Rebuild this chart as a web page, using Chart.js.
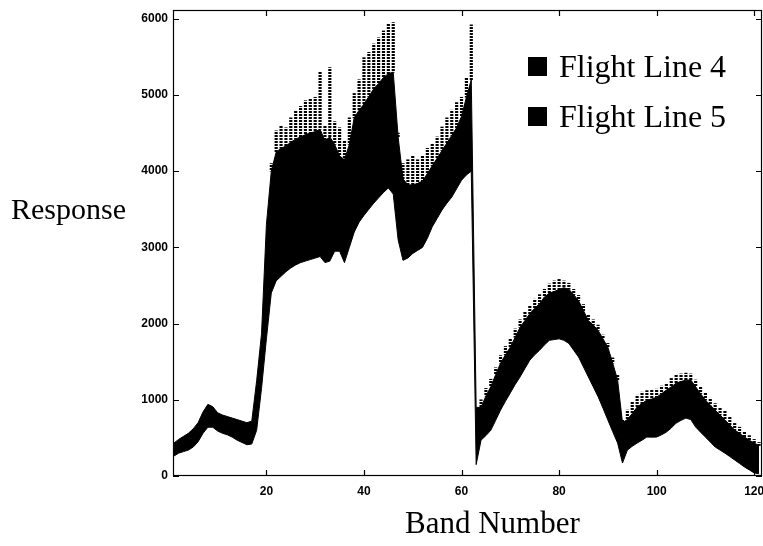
<!DOCTYPE html>
<html><head><meta charset="utf-8">
<script src="https://cdn.jsdelivr.net/npm/chart.js@4/dist/chart.umd.min.js"></script>
<style>html,body{margin:0;padding:0;background:#fff;overflow:hidden}#wrap{width:763px;height:546px}</style>
</head><body><div id="wrap"><canvas id="c" width="763" height="546"></canvas></div>
<script>
// Band numbers (x categories)
const bands = Array.from({length:121}, (_, i) => i + 1);

// Flight Line 4: upper edge of the dense response mass (per band)
const fl4Upper = [
 430,480,520,560,620,700,840,940,910,830,
 800,780,760,740,720,700,720,1250,1870,3300,
 4000,4250,4300,4330,4380,4420,4450,4480,4500,4520,
 4550,4400,4450,4350,4200,4150,4350,4700,4800,4880,
 4980,5080,5150,5230,5280,5300,4450,3900,3820,3820,
 3840,3870,3970,4070,4170,4270,4370,4470,4570,4720,
 4970,5200,900,900,1050,1170,1330,1480,1590,1690,
 1820,1950,2040,2130,2200,2260,2350,2400,2420,2450,
 2470,2450,2380,2300,2170,2040,1980,1910,1800,1690,
 1480,1260,700,740,820,905,950,996,1010,1035,
 1080,1127,1170,1218,1240,1258,1260,1170,1080,996,
 930,865,800,734,670,603,560,511,470,432,
 400
];

// Flight Line 5: lower edge of the response mass (per band)
const fl5Lower = [
 260,300,320,340,380,450,560,640,640,590,
 560,540,510,470,440,410,420,600,1150,1800,
 2400,2560,2620,2680,2730,2770,2800,2820,2840,2860,
 2880,2800,2820,2950,2950,2800,3000,3200,3330,3420,
 3500,3580,3650,3720,3780,3700,3100,2830,2860,2920,
 2960,3000,3120,3270,3380,3490,3580,3660,3770,3880,
 3950,4000,150,470,530,600,730,865,980,1090,
 1200,1300,1410,1520,1590,1650,1720,1780,1790,1800,
 1780,1740,1650,1560,1430,1300,1170,1040,890,734,
 580,432,170,340,390,432,470,511,510,511,
 540,576,630,694,730,760,740,642,575,511,
 445,380,340,300,255,210,165,118,80,40,
 30
];

// Highest scattered (dotted) responses per band
const peakResponse = [
 null,null,null,null,null,null,null,null,null,null,
 null,null,null,null,null,null,null,null,null,null,
 4100,4530,4600,4570,4700,4795,4850,4925,4950,4970,
 5300,4600,5360,4650,4570,4400,4700,5020,5200,5490,
 5560,5670,5750,5840,5930,5950,4500,4100,4150,4200,
 4150,4200,4300,4360,4450,4580,4700,4800,4900,4970,
 5230,5920,null,1000,1150,1270,1420,1580,1700,1800,
 1930,2050,2150,2240,2320,2380,2450,2520,2560,2580,
 2560,2530,2450,2370,2250,2120,2050,1980,1850,1740,
 1550,1320,740,865,980,1060,1100,1120,1130,1140,
 1180,1210,1280,1323,1340,1350,1340,1260,1170,1090,
 1020,950,900,850,770,690,640,580,530,480,
 440
];

const xTicks = [20,40,60,80,100,120];
const yTicks = [0,1000,2000,3000,4000,5000,6000];
const seriesLabels = ['Flight Line 4','Flight Line 5'];
const xTitle = 'Band Number';
const yTitle = 'Response';

const upperPts = bands.map((b,i)=>({x:b, y:fl4Upper[i]}));
const lowerPts = bands.map((b,i)=>({x:b, y:fl5Lower[i]}));
const peakPts = bands.map((b,i)=>peakResponse[i]==null?null:({x:b, y:[fl4Upper[i], peakResponse[i]]})).filter(p=>p);

// dotted pattern for the scattered peaks
const pc = document.createElement('canvas'); pc.width=2; pc.height=3;
const pctx = pc.getContext('2d'); pctx.fillStyle='#000'; pctx.fillRect(0,0,2,2);
const dotPattern = pctx.createPattern(pc,'repeat');

const tickFont = {family:"'Liberation Sans', Arial, sans-serif", size:12, weight:'bold'};

const decor = {
  id:'decor',
  afterDraw(chart){
    const {ctx, chartArea:a, scales:{x,y}} = chart;
    ctx.save();
    ctx.strokeStyle='#000'; ctx.lineWidth=1.2;
    ctx.strokeRect(a.left+0.5, a.top+0.5, a.right-a.left-1, a.bottom-a.top-1);
    ctx.beginPath();
    xTicks.forEach(v=>{const px=Math.round(x.getPixelForValue(v))+0.5;
      ctx.moveTo(px,a.bottom); ctx.lineTo(px,a.bottom-6);
      ctx.moveTo(px,a.top); ctx.lineTo(px,a.top+6);});
    yTicks.forEach(v=>{const py=Math.round(y.getPixelForValue(v))+0.5;
      ctx.moveTo(a.left,py); ctx.lineTo(a.left+6,py);
      ctx.moveTo(a.right,py); ctx.lineTo(a.right-6,py);});
    ctx.stroke();
    // legend
    ctx.fillStyle='#000';
    ctx.font="32px 'Liberation Serif', 'Times New Roman', serif";
    ctx.textBaseline='alphabetic'; ctx.textAlign='left';
    const rows=[77,127];
    chart.data.datasets.slice(0,2).forEach((ds,i)=>{
      ctx.fillRect(528, rows[i]-20, 19, 19);
      ctx.fillText(ds.label, 559, rows[i]);
    });
    // axis titles
    ctx.font="30px 'Liberation Serif', 'Times New Roman', serif";
    ctx.fillText(yTitle, 11, 219);
    ctx.font="31px 'Liberation Serif', 'Times New Roman', serif";
    ctx.fillText(xTitle, 405, 533);
    ctx.restore();
  }
};

new Chart(document.getElementById('c'), {
  type:'line',
  data:{
    datasets:[
      {label:seriesLabels[0], data:upperPts, borderColor:'#000', backgroundColor:'#000', borderWidth:1, pointRadius:0, fill:'+1', tension:0},
      {label:seriesLabels[1], data:lowerPts, borderColor:'#000', backgroundColor:'#000', borderWidth:1, pointRadius:0, fill:false, tension:0},
      {type:'bar', label:'peaks', data:peakPts, backgroundColor:dotPattern, borderWidth:0, barThickness:2.5, grouped:false}
    ]
  },
  options:{
    responsive:false, animation:false, devicePixelRatio:1,
    layout:{padding:{top:10, right:1, left:0, bottom:0}},
    plugins:{legend:{display:false}, tooltip:{enabled:false}},
    scales:{
      x:{type:'linear', min:0.85, max:121.6, offset:false,
         grid:{display:false, drawTicks:false}, border:{display:false},
         afterBuildTicks:s=>{s.ticks=xTicks.map(v=>({value:v}));},
         afterFit:s=>{s.height=70; s.paddingLeft=0; s.paddingRight=0;},
         ticks:{font:tickFont, color:'#000', padding:8, maxRotation:0, autoSkip:false, callback:v=>String(v)}},
      y:{type:'linear', min:0, max:6115,
         grid:{display:false, drawTicks:false}, border:{display:false},
         afterBuildTicks:s=>{s.ticks=yTicks.map(v=>({value:v}));},
         afterFit:s=>{s.width=173; s.paddingTop=0; s.paddingBottom=0;},
         ticks:{font:tickFont, color:'#000', padding:5, callback:v=>String(v)}}
    }
  },
  plugins:[decor]
});
</script></body></html>
